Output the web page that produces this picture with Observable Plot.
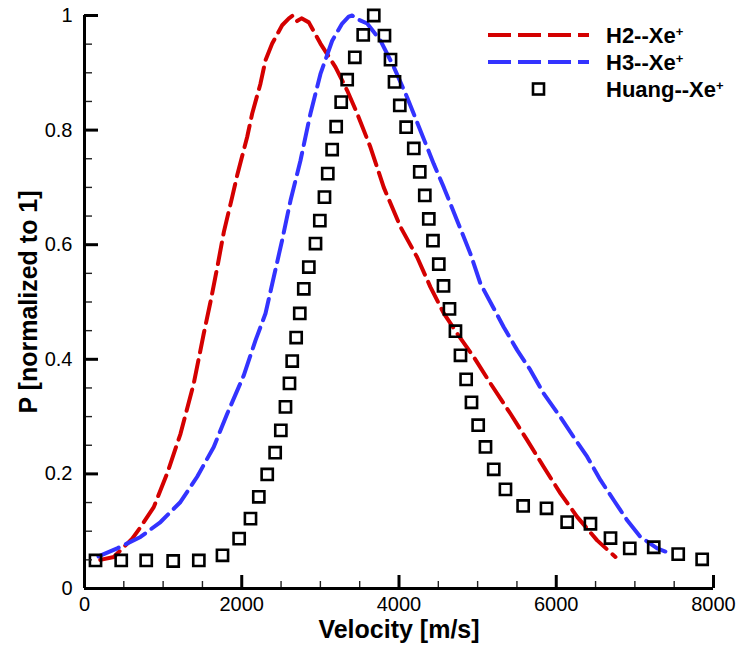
<!DOCTYPE html>
<html>
<head>
<meta charset="utf-8">
<script src="https://cdn.jsdelivr.net/npm/d3@7"></script>
<script src="https://cdn.jsdelivr.net/npm/@observablehq/plot@0.6"></script>
<style>
  html, body { margin: 0; padding: 0; background: #fff; }
  #chart svg { display: block; }
</style>
</head>
<body>
<div id="chart"></div>
<script>
// ---- data ----
const seriesNames = ["H2--Xe", "H3--Xe", "Huang--Xe"];
const seriesColors = ["#d40000", "#3333ff", "#000000"];

const h2Velocity = [200, 373, 607, 712, 881, 1052, 1221, 1390, 1517, 1602, 1688, 1772, 1878, 1942, 2069, 2133, 2238, 2302, 2387, 2514, 2600, 2650, 2700, 2760, 2853, 3001, 3192, 3341, 3468, 3637, 3806, 4019, 4231, 4400, 4570, 4740, 4951, 5163, 5418, 5630, 5841, 6053, 6266, 6520, 6753];
const h2P = [0.050, 0.055, 0.087, 0.107, 0.142, 0.201, 0.270, 0.358, 0.445, 0.500, 0.560, 0.622, 0.683, 0.721, 0.788, 0.829, 0.881, 0.922, 0.951, 0.983, 0.995, 1.0, 0.99, 0.995, 0.988, 0.951, 0.910, 0.869, 0.829, 0.770, 0.700, 0.631, 0.578, 0.526, 0.480, 0.445, 0.404, 0.358, 0.305, 0.259, 0.212, 0.166, 0.125, 0.084, 0.055];

const h3Velocity = [178, 416, 712, 967, 1221, 1433, 1644, 1815, 2026, 2175, 2302, 2408, 2514, 2620, 2747, 2874, 3001, 3150, 3277, 3360, 3405, 3450, 3595, 3765, 3934, 4104, 4273, 4442, 4570, 4740, 4909, 5036, 5185, 5333, 5503, 5672, 5841, 6053, 6223, 6393, 6563, 6732, 6902, 7071, 7284, 7453];
const h3P = [0.056, 0.070, 0.090, 0.116, 0.151, 0.195, 0.247, 0.305, 0.372, 0.433, 0.480, 0.544, 0.608, 0.677, 0.747, 0.829, 0.898, 0.956, 0.986, 0.998, 1.0, 0.995, 0.986, 0.956, 0.910, 0.857, 0.799, 0.741, 0.700, 0.642, 0.584, 0.532, 0.494, 0.456, 0.416, 0.381, 0.340, 0.299, 0.264, 0.230, 0.189, 0.154, 0.119, 0.090, 0.070, 0.061];

const huangVelocity = [140, 467, 785, 1128, 1454, 1755, 1967, 2111, 2217, 2324, 2425, 2497, 2556, 2607, 2642, 2692, 2738, 2789, 2853, 2938, 2993, 3052, 3094, 3150, 3201, 3265, 3341, 3438, 3545, 3679, 3815, 3892, 3943, 4010, 4091, 4188, 4264, 4328, 4379, 4432, 4506, 4566, 4642, 4718, 4782, 4854, 4922, 5007, 5100, 5205, 5354, 5579, 5876, 6139, 6435, 6690, 6935, 7240, 7551, 7856];
const huangP = [0.049, 0.049, 0.049, 0.048, 0.049, 0.058, 0.087, 0.122, 0.160, 0.199, 0.237, 0.276, 0.317, 0.358, 0.397, 0.438, 0.480, 0.523, 0.561, 0.602, 0.642, 0.683, 0.724, 0.766, 0.806, 0.849, 0.888, 0.927, 0.966, 1.0, 0.965, 0.923, 0.884, 0.843, 0.805, 0.768, 0.727, 0.686, 0.645, 0.607, 0.566, 0.528, 0.488, 0.449, 0.407, 0.365, 0.325, 0.285, 0.247, 0.208, 0.173, 0.144, 0.140, 0.116, 0.113, 0.088, 0.070, 0.072, 0.060, 0.051];

const xTicks = [0, 2000, 4000, 6000, 8000];
const xMinorTicks = [500, 1000, 1500, 2500, 3000, 3500, 4500, 5000, 5500, 6500, 7000, 7500];
const yTicks = [0, 0.2, 0.4, 0.6, 0.8, 1];
const yMinorTicks = [0.05, 0.1, 0.15, 0.25, 0.3, 0.35, 0.45, 0.5, 0.55, 0.65, 0.7, 0.75, 0.85, 0.9, 0.95];
const xTitle = "Velocity [m/s]";
const yTitle = "P [normalized to 1]";

// ---- tables built from the arrays ----
const h2 = h2Velocity.map((v, i) => ({v, p: h2P[i]}));
const h3 = h3Velocity.map((v, i) => ({v, p: h3P[i]}));
const huang = huangVelocity.map((v, i) => ({v, p: huangP[i]}));

const W = 740, H = 648;
const mL = 84, mR = 27, mT = 15, mB = 60;
const innerW = W - mL - mR, innerH = H - mT - mB;
const FONT = "'Liberation Sans', Arial, Helvetica, sans-serif";
const dash = "22,8";

const chart = Plot.plot({
  width: W, height: H,
  marginLeft: mL, marginRight: mR, marginTop: mT, marginBottom: mB,
  x: {domain: [0, 8000], label: null},
  y: {domain: [0, 1], label: null},
  style: {fontFamily: FONT, fontSize: "20px", color: "#000", background: "#fff", overflow: "visible"},
  marks: [
    Plot.line(h2, {x: "v", y: "p", stroke: seriesColors[0], strokeWidth: 4, strokeDasharray: dash}),
    Plot.line(h3, {x: "v", y: "p", stroke: seriesColors[1], strokeWidth: 4, strokeDasharray: dash}),
    Plot.dot(huang, {x: "v", y: "p", symbol: "square", r: 6.3, stroke: seriesColors[2], strokeWidth: 2.6, fill: "none"}),
    // ticks (inward)
    Plot.ruleX(xMinorTicks, {insetTop: innerH - 7, stroke: "#222", strokeWidth: 1.4}),
    Plot.ruleX(xTicks, {insetTop: innerH - 13, stroke: "#000", strokeWidth: 3}),
    Plot.ruleY(yMinorTicks, {insetRight: innerW - 8, stroke: "#222", strokeWidth: 1.4}),
    Plot.ruleY(yTicks, {insetRight: innerW - 14, stroke: "#000", strokeWidth: 3}),
    // axis lines
    Plot.ruleX([0], {stroke: "#000", strokeWidth: 3}),
    Plot.ruleY([0], {stroke: "#000", strokeWidth: 3}),
    Plot.axisX({ticks: xTicks, tickSize: 0, tickPadding: 8, tickFormat: d => String(d), label: null, fontSize: 20}),
    Plot.axisY({ticks: yTicks, tickSize: 0, tickPadding: 12, tickFormat: d => String(d), label: null, fontSize: 20}),
    Plot.text([xTitle], {frameAnchor: "bottom", text: d => d, dy: 49, textAnchor: "middle", fontWeight: "bold", fontSize: 25}),
    Plot.text([yTitle], {frameAnchor: "left", text: d => d, dx: -56, rotate: -90, textAnchor: "middle", fontWeight: "bold", fontSize: 25})
  ]
});
document.getElementById("chart").appendChild(chart);

// ---- legend inside the plot (top right) ----
const svg = d3.select(chart);
const lg = svg.append("g").attr("font-family", FONT).attr("font-weight", "bold")
  .attr("font-size", 22).attr("text-anchor", "start");
const legendY = [35, 62, 89];
seriesNames.forEach((name, i) => {
  const y = legendY[i];
  if (i < 2) {
    lg.append("line").attr("x1", 488).attr("x2", 589).attr("y1", y).attr("y2", y)
      .attr("stroke", seriesColors[i]).attr("stroke-width", 4).attr("stroke-dasharray", "23,7");
  } else {
    lg.append("rect").attr("x", 533).attr("y", y - 5.5).attr("width", 11).attr("height", 11)
      .attr("fill", "none").attr("stroke", "#000").attr("stroke-width", 2.6);
  }
  const t = lg.append("text").attr("x", 606).attr("y", y).attr("dy", "0.36em").attr("fill", "#000");
  t.append("tspan").text(name);
  t.append("tspan").attr("dy", "-0.55em").attr("font-size", 13).text("+");
});
</script>
</body>
</html>
